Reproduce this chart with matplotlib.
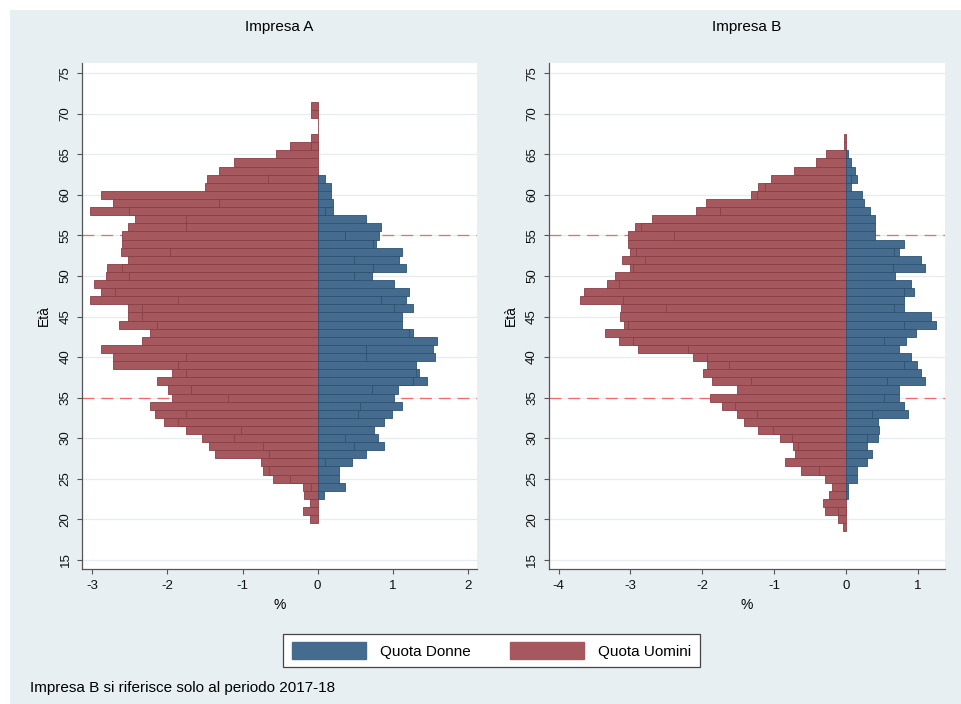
import numpy as np
import matplotlib
matplotlib.use("Agg")
import matplotlib.pyplot as plt
from matplotlib.patches import Rectangle, Patch

plt.rcParams['font.family'] = ['Liberation Sans', 'DejaVu Sans']
plt.rcParams['axes.unicode_minus'] = False

# ---- Impresa A: share of employees by age (%) ----
ages_men_a = np.arange(20, 72)
men_a = [0.10, 0.20, 0.10, 0.18, 0.20, 0.59, 0.73, 0.75, 1.37, 1.45,   # 20-29
         1.54, 1.75, 2.05, 2.16, 2.23, 1.94, 1.99, 2.14, 1.94, 2.73,   # 30-39
         2.72, 2.89, 2.34, 2.23, 2.64, 2.52, 2.53, 3.03, 2.89, 2.98,   # 40-49
         2.82, 2.80, 2.53, 2.62, 2.60, 2.60, 2.53, 2.43, 3.03, 2.72,   # 50-59
         2.89, 1.50, 1.47, 1.31, 1.12, 0.55, 0.37, 0.09, 0.00, 0.00,   # 60-69
         0.09, 0.09]                                                   # 70-71
# overlapping (shorter) bars drawn on top of the main ones
men_a_inner = {24: 0.09, 25: 0.37, 26: 0.65, 28: 0.65, 29: 0.73, 30: 1.11,
               31: 1.02, 32: 1.86, 33: 1.75, 35: 1.20, 36: 1.68, 38: 1.75,
               39: 1.86, 40: 1.75, 44: 2.14, 45: 2.34, 46: 2.34, 47: 1.86,
               48: 2.70, 50: 2.51, 51: 2.60, 53: 1.96, 56: 1.75, 57: 1.75,
               58: 2.51, 59: 1.31, 62: 0.66, 66: 0.09}

ages_women_a = np.arange(23, 63)
women_a = [0.09, 0.36, 0.28, 0.29, 0.46, 0.65, 0.88,                   # 23-29
           0.80, 0.75, 0.88, 0.99, 1.12, 1.02, 1.07, 1.46, 1.35, 1.31,  # 30-39
           1.56, 1.53, 1.59, 1.27, 1.12, 1.12, 1.27, 1.17, 1.22, 1.02,  # 40-49
           0.72, 1.17, 1.08, 1.12, 0.78, 0.81, 0.84, 0.64, 0.20, 0.20,  # 50-59
           0.18, 0.18, 0.10]                                            # 60-62
women_a_inner = {27: 0.10, 29: 0.48, 30: 0.36, 33: 0.54, 34: 0.56, 36: 0.72,
                 37: 1.27, 38: 1.31, 40: 0.64, 41: 0.64, 43: 1.22, 46: 1.02,
                 47: 0.84, 50: 0.48, 51: 0.74, 52: 0.48, 54: 0.74, 55: 0.37,
                 58: 0.10}

# ---- Impresa B ----
ages_men_b = np.arange(19, 68)
men_b = [0.04,                                                          # 19
         0.11, 0.29, 0.32, 0.24, 0.20, 0.29, 0.63, 0.85, 0.71, 0.73,    # 20-29
         0.92, 1.22, 1.42, 1.51, 1.73, 1.89, 1.52, 1.87, 1.99, 1.94,    # 30-39
         2.13, 2.90, 3.16, 3.35, 3.09, 3.15, 3.13, 3.70, 3.65, 3.33,    # 40-49
         3.21, 3.00, 3.12, 3.00, 3.03, 3.04, 2.94, 2.70, 2.09, 1.95,    # 50-59
         1.32, 1.22, 1.05, 0.72, 0.42, 0.28, 0.03, 0.03]                # 60-67
men_b_inner = {21: 0.11, 26: 0.37, 29: 0.67, 30: 0.75, 31: 1.02, 33: 1.24,
               34: 1.55, 37: 1.32, 39: 1.63, 40: 1.93, 41: 2.20, 42: 2.97,
               44: 3.03, 46: 2.50, 47: 3.11, 49: 3.16, 51: 2.96, 52: 2.80,
               53: 2.93, 55: 2.39, 56: 2.86, 58: 1.76, 60: 1.24, 61: 1.12}

ages_women_b = np.arange(23, 66)
women_b = [0.03, 0.03, 0.16, 0.16, 0.30, 0.37, 0.30,                    # 23-29
           0.44, 0.46, 0.44, 0.87, 0.81, 0.74, 0.74, 1.10, 1.04, 0.99,   # 30-39
           0.91, 0.74, 0.84, 0.97, 1.25, 1.18, 0.81, 0.81, 0.95, 0.91,   # 40-49
           0.69, 1.10, 1.04, 0.74, 0.81, 0.40, 0.40, 0.40, 0.34, 0.25,   # 50-59
           0.23, 0.07, 0.15, 0.13, 0.07, 0.03]                           # 60-65
women_b_inner = {30: 0.30, 33: 0.37, 35: 0.53, 37: 0.57, 39: 0.81, 42: 0.53,
                 44: 0.81, 46: 0.67, 48: 0.81, 51: 0.65, 53: 0.67, 62: 0.07}

panel_titles = ["Impresa A", "Impresa B"]
legend_labels = ["Quota Donne", "Quota Uomini"]
note = "Impresa B si riferisce solo al periodo 2017-18"
ref_ages = [35, 55]
y_ticks = list(range(15, 80, 5))
x_ticks_a = [-3, -2, -1, 0, 1, 2]
x_ticks_b = [-4, -3, -2, -1, 0, 1]

WOMEN = '#456b8e'
WOMEN_EDGE = '#2d5272'
MEN = '#a5585e'
MEN_EDGE = '#8a3f46'
AXIS = '#555555'

W, H = 962, 704
fig = plt.figure(figsize=(W / 100, H / 100), dpi=100, facecolor='white')
fig.patches.append(Rectangle((10 / W, 0), 1 - 10 / W, 1 - 10 / H,
                             transform=fig.transFigure, facecolor='#e8eff2',
                             edgecolor='none', zorder=-10))

bottom = 1 - 568.7 / H
height = (568.7 - 63.3) / H
axA = fig.add_axes([82.3 / W, bottom, (476.7 - 82.3) / W, height])
axB = fig.add_axes([549 / W, bottom, (945 - 549) / W, height])


def draw_panel(ax, ages_m, men, men_inner, ages_w, women, women_inner,
               xticks, xlim, title):
    ax.set_facecolor('white')
    for y in ref_ages:
        ax.axhline(y, color='#f06a6a', lw=0.9, ls=(0, (9.5, 5.5)), zorder=1)
    kw = dict(height=1.0, linewidth=0.6, zorder=3)
    ax.barh(ages_m, -np.asarray(men), color=MEN, edgecolor=MEN_EDGE, **kw)
    mi = sorted(men_inner)
    ax.barh(mi, [-men_inner[a] for a in mi], color=MEN, edgecolor=MEN_EDGE, **kw)
    ax.barh(ages_w, women, color=WOMEN, edgecolor=WOMEN_EDGE, **kw)
    wi = sorted(women_inner)
    ax.barh(wi, [women_inner[a] for a in wi], color=WOMEN, edgecolor=WOMEN_EDGE, **kw)

    ax.set_xlim(*xlim)
    ax.set_ylim(13.89, 76.24)
    ax.set_yticks(y_ticks)
    ax.set_xticks(xticks)
    ax.set_xticklabels([str(t) for t in xticks])
    ax.yaxis.grid(True, color='#e6ecef', lw=0.9, zorder=0)
    ax.set_axisbelow(True)
    for s in ('top', 'right'):
        ax.spines[s].set_visible(False)
    for s in ('left', 'bottom'):
        ax.spines[s].set_color(AXIS)
        ax.spines[s].set_linewidth(0.9)
    ax.tick_params(axis='both', colors=AXIS, labelcolor='#111111',
                   length=3.8, width=0.8, labelsize=9.5)
    ax.tick_params(axis='y', labelrotation=90, pad=4)
    ax.tick_params(axis='x', pad=4.5)
    for lab in ax.get_yticklabels():
        lab.set_va('center')
    ax.set_xlabel('%', fontsize=10, labelpad=4)
    ax.set_ylabel('Età', fontsize=10, labelpad=6)
    ax.text(0.5, 1 + (63.3 - 27) / (568.7 - 63.3), title, transform=ax.transAxes,
            ha='center', va='center', fontsize=11)


draw_panel(axA, ages_men_a, men_a, men_a_inner, ages_women_a, women_a,
           women_a_inner, x_ticks_a, (-3.133, 2.117), panel_titles[0])
draw_panel(axB, ages_men_b, men_b, men_b_inner, ages_women_b, women_b,
           women_b_inner, x_ticks_b, (-4.135, 1.38), panel_titles[1])

handles = [Patch(facecolor=WOMEN, edgecolor=WOMEN), Patch(facecolor=MEN, edgecolor=MEN)]
leg = fig.legend(handles, legend_labels, loc='center',
                 bbox_to_anchor=(491.5 / W, 1 - 650.5 / H), ncol=2,
                 frameon=True, fancybox=False, edgecolor='#444444',
                 facecolor='white', framealpha=1, fontsize=11,
                 handlelength=4.85, handleheight=1.3, handletextpad=0.9,
                 columnspacing=2.6, borderpad=0.55)
leg.get_frame().set_linewidth(0.9)

fig.text(30 / W, 1 - 688 / H, note, ha='left', va='center', fontsize=11)

fig.savefig('out.png', dpi=100, facecolor=fig.get_facecolor())
